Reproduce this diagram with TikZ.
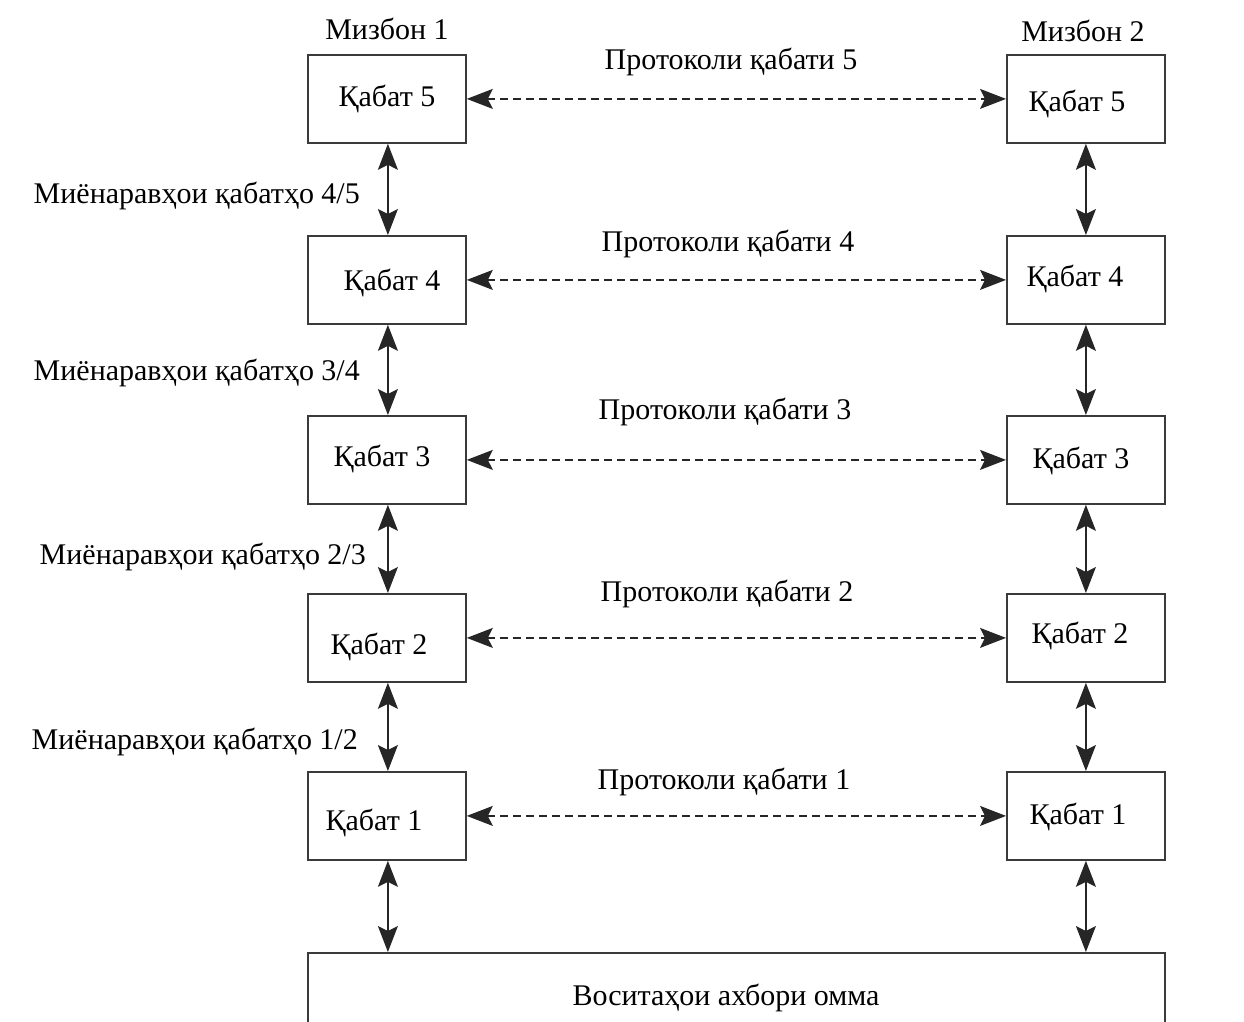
\documentclass[tikz,border=0pt]{standalone}
\usepackage{fontspec}
\setmainfont{Liberation Serif}
\usetikzlibrary{arrows.meta}
\definecolor{boxline}{HTML}{3A3A3A}
\tikzset{
  layerbox/.style={draw=boxline, line width=1.8pt, minimum width=158pt, minimum height=88pt, inner sep=0pt, anchor=north west},
  txt/.style={inner sep=0pt, font=\fontsize{30}{33}\selectfont, yshift=-2pt},
  biarrow/.style={line width=1.3pt, draw=black!85, {Stealth[length=26pt,width=20pt,inset=5pt]}-{Stealth[length=26pt,width=20pt,inset=5pt]}},
  protoarrow/.style={biarrow, dash pattern=on 8pt off 5pt},
}
\begin{document}
\begin{tikzpicture}[x=1pt,y=-1pt]
\useasboundingbox (0,0) rectangle (1244,1021);
\clip (0,0) rectangle (1244,1021);
% left column boxes
\node[layerbox] (L5) at (307,54) {};
\node[layerbox] (L4) at (307,235) {};
\node[layerbox] (L3) at (307,415) {};
\node[layerbox] (L2) at (307,593) {};
\node[layerbox] (L1) at (307,771) {};
% right column boxes
\node[layerbox] (R5) at (1006,54) {};
\node[layerbox] (R4) at (1006,235) {};
\node[layerbox] (R3) at (1006,415) {};
\node[layerbox] (R2) at (1006,593) {};
\node[layerbox] (R1) at (1006,771) {};
% bottom medium box
\node[draw=boxline, line width=1.8pt, minimum width=857pt, minimum height=120pt, inner sep=0pt, anchor=north west] (M) at (307,952) {};
\coordinate (ML) at (L1.south |- M.north);
\coordinate (MR) at (R1.south |- M.north);
% box texts
\node[txt] (tL5) at (387,97) {Қабат 5};
\node[txt] (tL4) at (392,281) {Қабат 4};
\node[txt] (tL3) at (382,457) {Қабат 3};
\node[txt] (tL2) at (379,645) {Қабат 2};
\node[txt] (tL1) at (374,821) {Қабат 1};
\node[txt] (tR5) at (1077,102) {Қабат 5};
\node[txt] (tR4) at (1075,277) {Қабат 4};
\node[txt] (tR3) at (1081,459) {Қабат 3};
\node[txt] (tR2) at (1080,634) {Қабат 2};
\node[txt] (tR1) at (1078,815) {Қабат 1};
\node[txt] (tM) at (726,996) {Воситаҳои ахбори омма};
% headers
\node[txt] (h1) at (387,27) {Мизбон 1};
\node[txt] (h2) at (1083,29) {Мизбон 2};
% protocol labels
\node[txt] (p5) at (731,60) {Протоколи қабати 5};
\node[txt] (p4) at (728,242) {Протоколи қабати 4};
\node[txt] (p3) at (725,410) {Протоколи қабати 3};
\node[txt] (p2) at (727,592) {Протоколи қабати 2};
\node[txt] (p1) at (724,780) {Протоколи қабати 1};
% interface labels
\node[txt, anchor=east] (i45) at (360,194) {Миёнаравҳои қабатҳо 4/5};
\node[txt, anchor=east] (i34) at (360,371) {Миёнаравҳои қабатҳо 3/4};
\node[txt, anchor=east] (i23) at (366,555) {Миёнаравҳои қабатҳо 2/3};
\node[txt, anchor=east] (i12) at (358,740) {Миёнаравҳои қабатҳо 1/2};
% vertical arrows
\draw[biarrow] ([xshift=1pt]L5.south) -- ([xshift=1pt]L4.north);
\draw[biarrow] ([xshift=1pt]L4.south) -- ([xshift=1pt]L3.north);
\draw[biarrow] ([xshift=1pt]L3.south) -- ([xshift=1pt]L2.north);
\draw[biarrow] ([xshift=1pt]L2.south) -- ([xshift=1pt]L1.north);
\draw[biarrow] ([xshift=1pt]L1.south) -- ([xshift=1pt]ML);
\draw[biarrow] (R5.south) -- (R4.north);
\draw[biarrow] (R4.south) -- (R3.north);
\draw[biarrow] (R3.south) -- (R2.north);
\draw[biarrow] (R2.south) -- (R1.north);
\draw[biarrow] (R1.south) -- (MR);
% protocol arrows
\draw[protoarrow] (L5.east) -- (R5.west);
\draw[protoarrow] (L4.east) -- (R4.west);
\draw[protoarrow] (L3.east) -- (R3.west);
\draw[protoarrow] (L2.east) -- (R2.west);
\draw[protoarrow] (L1.east) -- (R1.west);
\end{tikzpicture}
\end{document}
